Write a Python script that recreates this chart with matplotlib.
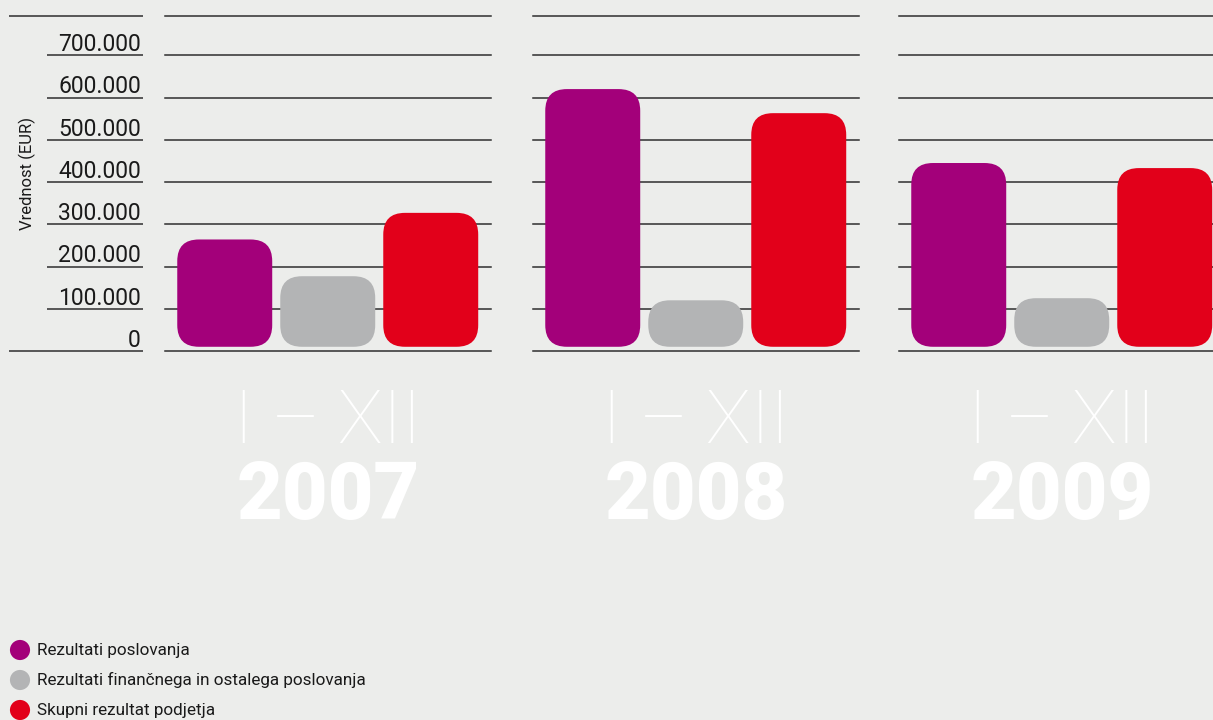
import matplotlib
matplotlib.use('Agg')
import matplotlib.pyplot as plt
from matplotlib.patches import FancyBboxPatch
from matplotlib import font_manager

# data
years       = ['2007', '2008', '2009']
period      = 'I – XII'
series      = ['Rezultati poslovanja',
               'Rezultati finančnega in ostalega poslovanja',
               'Skupni rezultat podjetja']
poslovanje  = [264000, 620000, 445000]
financno    = [177000, 120000, 125000]
skupni      = [327000, 563000, 433000]
ticks       = [0, 100000, 200000, 300000, 400000, 500000, 600000, 700000]
tick_labels = ['0', '100.000', '200.000', '300.000', '400.000', '500.000', '600.000', '700.000']
ylabel      = 'Vrednost (EUR)'

BG     = '#ecedeb'
LINE   = '#2e2e2e'
COLORS = ['#a3007a', '#b3b4b5', '#e2001a']
TXT    = '#1a1a1a'

names = {f.name for f in font_manager.fontManager.ttflist}
NARROW = 'Liberation Sans Narrow' in names
plt.rcParams['font.family'] = ['Roboto', 'DejaVu Sans']

W, H = 1213, 720
fig = plt.figure(figsize=(W/100, H/100), dpi=100, facecolor=BG)

def px(x0, y0, x1, y1):
    return [x0/W, 1-y1/H, (x1-x0)/W, (y1-y0)/H]

YMAX  = 793000
TOP, BOT = 16, 351
BASE  = 10000
PW    = 326
STEP  = 103
panel_left = [165, 533, 899]

# left tick column
axl = fig.add_axes(px(9, TOP, 143, BOT))
axl.set_xlim(0, 1)
axl.set_ylim(0, YMAX)
axl.axis('off')
for t, lab in zip(ticks, tick_labels):
    x0 = 0 if t == 0 else 0.284
    axl.plot([x0, 1], [t, t], color=LINE, lw=1.1, clip_on=False, solid_capstyle='butt')
    axl.annotate(lab, (0.985, t), xytext=(0, 3), textcoords='offset points',
                 ha='right', va='baseline', fontsize=16.5, color=TXT)
axl.plot([0, 1], [YMAX, YMAX], color=LINE, lw=1.1, clip_on=False, solid_capstyle='butt')
fig.text(27/W, 1-173/H, ylabel, rotation=90, ha='center', va='center', fontsize=12, color=TXT)

asp = (YMAX/(BOT-TOP)) / (1/STEP)
for i, yr in enumerate(years):
    ax = fig.add_axes(px(panel_left[i], TOP, panel_left[i]+PW, BOT))
    ax.set_xlim(-0.58, -0.58 + PW/STEP)
    ax.set_ylim(0, YMAX)
    ax.axis('off')
    for t in ticks + [YMAX]:
        ax.axhline(t, color=LINE, lw=1.1, zorder=1, clip_on=False)
    vals = [poslovanje[i], financno[i], skupni[i]]
    for j, v in enumerate(vals):
        p = FancyBboxPatch((j-0.461, BASE), 0.922, v-BASE,
                           boxstyle='round,pad=0,rounding_size=0.21',
                           mutation_aspect=asp, fc=COLORS[j], ec='none', zorder=3)
        ax.add_patch(p)
    cx = (panel_left[i] + PW/2)/W
    fig.text(cx, 1-443/H, period, ha='center', va='baseline', color='white',
             fontsize=54, fontweight=100)
    if NARROW:
        fig.text(cx, 1-519/H, yr, ha='center', va='baseline', color='white',
                 fontsize=71, fontweight='bold', family=['Liberation Sans Narrow', 'DejaVu Sans'])
    else:
        fig.text(cx, 1-519/H, yr, ha='center', va='baseline', color='white',
                 fontsize=57, fontweight='black')

# legend
axg = fig.add_axes([0, 0, 1, 1])
axg.set_xlim(0, W)
axg.set_ylim(H, 0)
axg.axis('off')
for k, (name, c) in enumerate(zip(series, COLORS)):
    y = 650 + 30*k
    axg.scatter([20], [y], s=210, color=c, edgecolors='none')
    axg.text(37, y, name, ha='left', va='center', fontsize=12.3, color=TXT)

fig.savefig('out.png', dpi=100, facecolor=BG)
